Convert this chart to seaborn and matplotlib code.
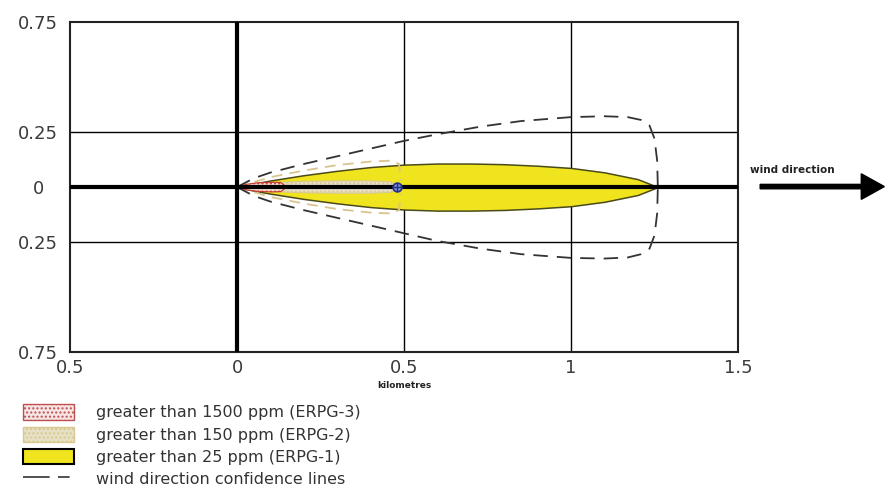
import matplotlib
matplotlib.use("Agg")
import matplotlib.pyplot as plt
import seaborn as sns
from matplotlib.patches import Patch, FancyArrow
from matplotlib.lines import Line2D

# ERPG-1 footprint (yellow), half widths about the centre line
erpg1_x = [0, 0.05, 0.1, 0.15, 0.2, 0.3, 0.4, 0.5, 0.6, 0.7, 0.8, 0.9, 1.0, 1.1, 1.2, 1.26]
erpg1_hw = [0, 0.016, 0.03, 0.042, 0.054, 0.074, 0.091, 0.102, 0.107, 0.107, 0.104, 0.097, 0.087, 0.067, 0.036, 0]

# ERPG-2 footprint (beige)
erpg2_x = [0, 0.05, 0.1, 0.2, 0.3, 0.4, 0.46, 0.48]
erpg2_hw = [0, 0.012, 0.02, 0.026, 0.028, 0.028, 0.024, 0]

# ERPG-3 footprint (red dotted)
erpg3_x = [0, 0.03, 0.06, 0.1, 0.13, 0.15]
erpg3_hw = [0, 0.013, 0.019, 0.022, 0.021, 0]

# wind direction confidence lines (black dashed)
conf_x = [0, 0.05, 0.1, 0.2, 0.3, 0.4, 0.5, 0.6, 0.73, 0.85, 1.0, 1.1, 1.17, 1.21, 1.235, 1.25, 1.258, 1.26]
conf_up = [0, 0.04, 0.066, 0.105, 0.14, 0.175, 0.21, 0.24, 0.275, 0.3, 0.318, 0.322, 0.318, 0.305, 0.28, 0.22, 0.12, 0]
conf_lo = [0, -0.04, -0.066, -0.105, -0.14, -0.175, -0.21, -0.245, -0.28, -0.305, -0.322, -0.325, -0.32, -0.305, -0.28, -0.22, -0.12, 0]

# ERPG-2 confidence lines (tan dashed)
conf2_x = [0, 0.1, 0.2, 0.3, 0.4, 0.46, 0.485, 0.49, 0.49]
conf2_up = [0, 0.045, 0.075, 0.1, 0.116, 0.12, 0.105, 0.06, 0]
conf2_lo = [0, -0.045, -0.075, -0.1, -0.116, -0.12, -0.105, -0.06, 0]

source_x = [0.48]
source_y = [0]

x_ticks = [-0.5, 0, 0.5, 1, 1.5]
x_labels = ["0.5", "0", "0.5", "1", "1.5"]
y_ticks = [-0.75, -0.25, 0, 0.25, 0.75]
y_labels = ["0.75", "0.25", "0", "0.25", "0.75"]

legend_labels = [
    "greater than 1500 ppm (ERPG-3)",
    "greater than 150 ppm (ERPG-2)",
    "greater than 25 ppm (ERPG-1)",
    "wind direction confidence lines",
]

sns.set_style("white")
plt.rcParams["font.family"] = ["DejaVu Sans"]

fig = plt.figure(figsize=(8.87, 4.91), dpi=100)
ax = fig.add_axes([0.079, 0.283, 0.753, 0.672])

# grid lines
for gx in [0.5, 1.0]:
    ax.axvline(gx, color="black", lw=1, zorder=1)
for gy in [-0.25, 0.25]:
    ax.axhline(gy, color="black", lw=1, zorder=1)

# footprints
ax.fill_between(erpg1_x, [-v for v in erpg1_hw], erpg1_hw,
                facecolor="#f0e41e", edgecolor="#4a4a1a", lw=1.1, zorder=2)
ax.fill_between(erpg2_x, [-v for v in erpg2_hw], erpg2_hw,
                facecolor="#e6e0cc", edgecolor="#d8c890", hatch="....", lw=0.8, zorder=3)
ax.fill_between(erpg3_x, [-v for v in erpg3_hw], erpg3_hw,
                facecolor="#f6e0d8", edgecolor="#c83a30", hatch="....", lw=0.8, zorder=4)

for ys in (conf2_up, conf2_lo):
    sns.lineplot(x=conf2_x, y=ys, sort=False, ax=ax, color="#d9c48e",
                 lw=1.3, linestyle=(0, (6, 4)), zorder=3)
for ys in (conf_up, conf_lo):
    sns.lineplot(x=conf_x, y=ys, sort=False, ax=ax, color="#333333",
                 lw=1.3, linestyle=(0, (8, 5)), zorder=3)

ax.axvline(0, color="black", lw=3, zorder=5)
ax.axhline(0, color="black", lw=3, zorder=5)

ax.scatter(source_x, source_y, s=40, facecolor="#8090d0", edgecolor="#20308a",
           marker="o", lw=1.2, zorder=6)
ax.scatter(source_x, source_y, s=40, color="#20308a", marker="+", lw=1, zorder=7)

ax.set_xlim(-0.5, 1.5)
ax.set_ylim(-0.75, 0.75)
ax.set_xticks(x_ticks)
ax.set_xticklabels(x_labels)
ax.set_yticks(y_ticks)
ax.set_yticklabels(y_labels, ha="center")
ax.tick_params(axis="both", length=0, labelsize=13, labelcolor="#3a3a3a")
ax.tick_params(axis="x", pad=5)
ax.tick_params(axis="y", pad=23)
for s in ax.spines.values():
    s.set_color("#222222")
    s.set_linewidth(1.5)
ax.set_xlabel("kilometres", fontsize=6.5, fontweight="bold", color="#222222", labelpad=3)

# wind direction arrow
fig.text(0.845, 0.648, "wind direction", fontsize=7.5, fontweight="bold", color="#222222")
fig.patches.append(FancyArrow(
    0.857, 0.62, 0.14, 0, width=0.009, head_width=0.052, head_length=0.026,
    length_includes_head=True, transform=fig.transFigure, color="black", figure=fig))

handles = [
    Patch(facecolor="#f6e6e6", edgecolor="#c05050", hatch="....", lw=1),
    Patch(facecolor="#e6e0c4", edgecolor="#d8c890", hatch="....", lw=1),
    Patch(facecolor="#f0e41e", edgecolor="black", lw=1.5),
    Line2D([0], [0], color="#333333", lw=1.2, linestyle=(0, (16, 5, 7, 30))),
]
fig.legend(handles, legend_labels, loc="upper left", bbox_to_anchor=(0.022, 0.183),
           frameon=False, fontsize=11.5, labelcolor="#333333", handlelength=3.2,
           handleheight=1.1, handletextpad=1.4, labelspacing=0.38, borderpad=0.2,
           borderaxespad=0)

fig.savefig("out.png", dpi=100)
